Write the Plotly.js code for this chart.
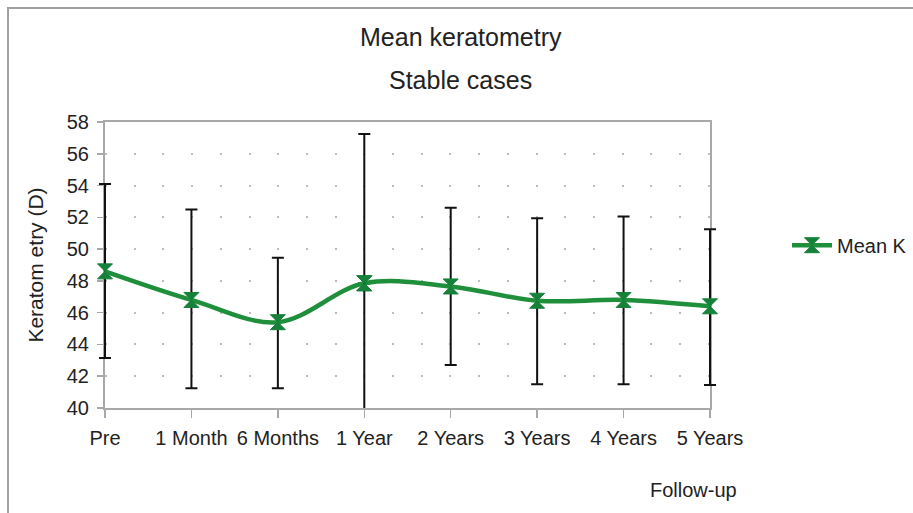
<!DOCTYPE html>
<html>
<head>
<meta charset="utf-8">
<script src="https://cdn.plot.ly/plotly-3.0.1.min.js"></script>
<style>
  html, body { margin: 0; padding: 0; background: #fff; }
  #wrap { position: relative; width: 913px; height: 513px; overflow: hidden; }
  #chart { position: absolute; left: 0; top: 0; width: 913px; height: 513px; }
  #frame { position: absolute; left: 7px; top: 7px; width: 920px; height: 520px;
           border-left: 2px solid #a0a0a0; border-top: 2px solid #a0a0a0; pointer-events: none; }
</style>
</head>
<body>
<div id="wrap">
  <div id="chart"></div>
  <div id="frame"></div>
</div>
<script>
const categories = ["Pre", "1 Month", "6 Months", "1 Year", "2 Years", "3 Years", "4 Years", "5 Years"];
const meanK      = [48.6, 46.8, 45.4, 47.85, 47.65, 46.75, 46.8, 46.4];
const upperK     = [54.1, 52.5, 49.45, 57.25, 52.6, 51.95, 52.05, 51.25];
const lowerK     = [43.15, 41.25, 41.25, 38.4, 42.7, 41.5, 41.5, 41.45];
const yTicks     = [40, 42, 44, 46, 48, 50, 52, 54, 56, 58];
const yMin = 40, yMax = 58;

// bars whose lower end falls below the axis are drawn in a clipped trace
const clipped = lowerK.map(l => l < yMin);
const errPlus  = upperK.map((u, i) => clipped[i] ? null : u - meanK[i]);
const errMinus = meanK.map((m, i) => clipped[i] ? null : m - lowerK[i]);

const FONT = '"Liberation Sans", Arial, sans-serif';
const GREEN = '#1f8f3c';
const MK = '#16813a';

const mainTrace = {
  x: categories,
  y: meanK,
  type: 'scatter',
  mode: 'lines+markers',
  name: 'Mean K',
  line: { color: GREEN, width: 4.5, shape: 'spline', smoothing: 1 },
  marker: { symbol: 'hourglass', size: 15, color: MK, line: { color: MK, width: 1 } },
  error_y: {
    type: 'data', symmetric: false,
    array: errPlus, arrayminus: errMinus,
    color: '#111', thickness: 2, width: 6
  },
  cliponaxis: false
};

const clipIdx = categories.map((c, i) => i).filter(i => clipped[i]);
const clipTrace = {
  x: clipIdx.map(i => categories[i]),
  y: clipIdx.map(i => meanK[i]),
  type: 'scatter',
  mode: 'markers',
  showlegend: false,
  hoverinfo: 'skip',
  marker: { symbol: 'hourglass', size: 15, color: MK, line: { color: MK, width: 1 } },
  error_y: {
    type: 'data', symmetric: false,
    array: clipIdx.map(i => upperK[i] - meanK[i]),
    arrayminus: clipIdx.map(i => meanK[i] - lowerK[i]),
    color: '#111', thickness: 2, width: 6
  },
  cliponaxis: true
};

const layout = {
  width: 913, height: 513,
  margin: { l: 105, r: 203, t: 122, b: 105, autoexpand: false },
  paper_bgcolor: '#fff', plot_bgcolor: '#fff',
  font: { family: FONT, size: 20, color: '#222' },
  showlegend: true,
  legend: {
    xref: 'container', yref: 'container',
    x: 0.862, xanchor: 'left', y: 0.522, yanchor: 'middle',
    font: { family: FONT, size: 20, color: '#222' },
    bgcolor: 'rgba(0,0,0,0)', itemwidth: 40
  },
  xaxis: {
    type: 'category',
    range: [0, 7],
    showgrid: false,
    showline: true, linecolor: '#a8a8a8', linewidth: 2, mirror: true,
    ticks: 'outside', ticklen: 8, tickcolor: '#a8a8a8', tickwidth: 1.5,
    ticklabelstandoff: 3,
    tickfont: { family: FONT, size: 20, color: '#222' },
    zeroline: false, fixedrange: true, automargin: false,
    layer: 'below traces'
  },
  yaxis: {
    range: [yMin, yMax],
    tickvals: yTicks,
    ticktext: yTicks.map(String),
    showgrid: true, gridcolor: '#bdbdbd', gridwidth: 2, griddash: '2px,26.7px',
    showline: true, linecolor: '#a8a8a8', linewidth: 2, mirror: true,
    ticks: 'outside', ticklen: 6, tickcolor: '#a8a8a8', tickwidth: 1.5,
    ticklabelstandoff: 4,
    tickfont: { family: FONT, size: 20, color: '#222' },
    title: { text: 'Keratom etry (D)', font: { family: FONT, size: 21, color: '#222' }, standoff: 17 },
    zeroline: false, fixedrange: true, automargin: false,
    layer: 'below traces'
  },
  annotations: [
    { text: 'Mean keratometry', xref: 'paper', yref: 'paper', x: 0.588, y: 1.298,
      xanchor: 'center', yanchor: 'middle', showarrow: false,
      font: { family: FONT, size: 25, color: '#222' } },
    { text: 'Stable cases', xref: 'paper', yref: 'paper', x: 0.588, y: 1.148,
      xanchor: 'center', yanchor: 'middle', showarrow: false,
      font: { family: FONT, size: 25, color: '#222' } },
    { text: 'Follow-up', xref: 'paper', yref: 'paper', x: 0.973, y: -0.285,
      xanchor: 'center', yanchor: 'middle', showarrow: false,
      font: { family: FONT, size: 20, color: '#222' } }
  ]
};

Plotly.newPlot('chart', [mainTrace, clipTrace], layout, { displayModeBar: false, staticPlot: true })
  .then(function (gd) {
    // let the error bars of the unclipped trace show in full at the plot edges
    const tr = gd.querySelectorAll('.scatterlayer .trace')[0];
    if (tr) {
      [tr].concat(Array.from(tr.querySelectorAll('*'))).forEach(function (el) {
        if (el.hasAttribute('clip-path')) el.removeAttribute('clip-path');
      });
    }
  });
</script>
</body>
</html>
